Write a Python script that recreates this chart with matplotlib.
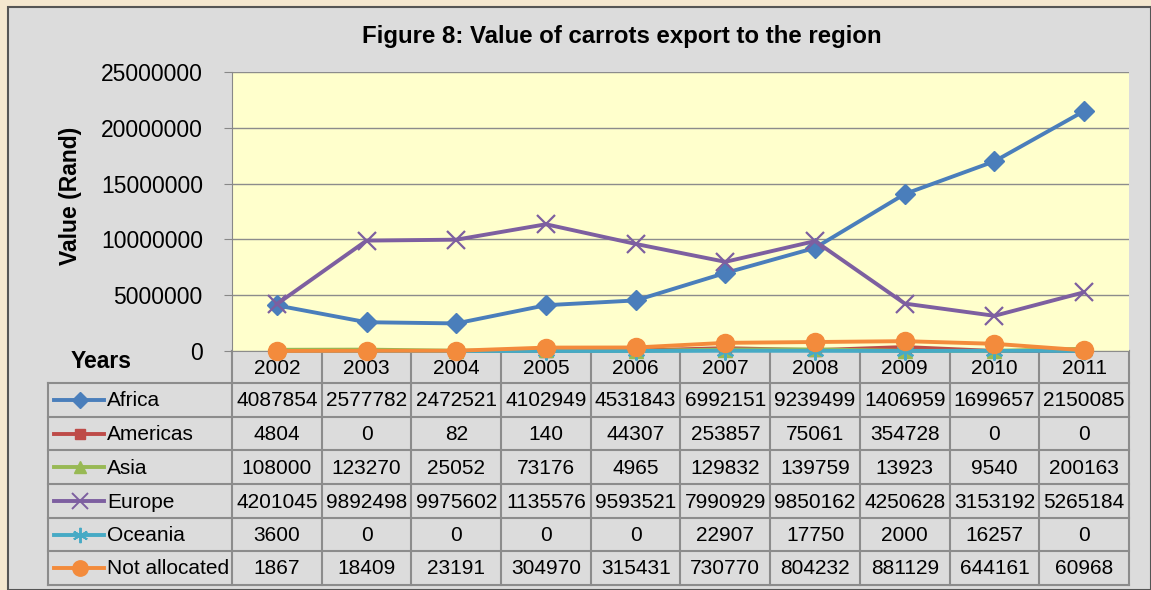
import numpy as np
import matplotlib
matplotlib.use('Agg')
import matplotlib.pyplot as plt
from matplotlib.lines import Line2D
from matplotlib.patches import Rectangle

plt.rcParams['font.family'] = ['Liberation Sans', 'DejaVu Sans']

years = [2002, 2003, 2004, 2005, 2006, 2007, 2008, 2009, 2010, 2011]
africa = [4087854, 2577782, 2472521, 4102949, 4531843, 6992151, 9239499, 14069590, 16996570, 21500850]
americas = [4804, 0, 82, 140, 44307, 253857, 75061, 354728, 0, 0]
asia = [108000, 123270, 25052, 73176, 4965, 129832, 139759, 13923, 9540, 200163]
europe = [4201045, 9892498, 9975602, 11355760, 9593521, 7990929, 9850162, 4250628, 3153192, 5265184]
oceania = [3600, 0, 0, 0, 0, 22907, 17750, 2000, 16257, 0]
not_alloc = [1867, 18409, 23191, 304970, 315431, 730770, 804232, 881129, 644161, 60968]

series = [
    ('Africa', africa, '#4A7EBB', 'D', 10),
    ('Americas', americas, '#BE4B48', 's', 9),
    ('Asia', asia, '#98B954', '^', 10),
    ('Europe', europe, '#7D5FA0', 'x', 13),
    ('Oceania', oceania, '#46AAC5', (6, 2, 0), 13),
    ('Not allocated', not_alloc, '#F38B3C', 'o', 13),
]

W, H = 1151, 590
fig = plt.figure(figsize=(W / 100, H / 100), dpi=100)
fig.patch.set_facecolor('#f4e7cf')

# pixel overlay for background and table
bg = fig.add_axes([0, 0, 1, 1], zorder=0)
bg.set_xlim(0, W)
bg.set_ylim(H, 0)
bg.axis('off')
bg.add_patch(Rectangle((8, 7), W - 8, H - 7, facecolor='#dcdcdc', edgecolor='#555555', lw=1.5))

# plot area
L, R, T, B = 232, 1129, 72, 351
ax = fig.add_axes([L / W, (H - B) / H, (R - L) / W, (B - T) / H], zorder=2)
ax.set_facecolor('#ffffcc')
x = np.arange(len(years))
for name, vals, col, mk, ms in series:
    kw = dict(color=col, lw=2.8, marker=mk, markersize=ms, clip_on=False)
    if mk in ('x', (6, 2, 0)):
        kw['markeredgewidth'] = 1.6
    ax.plot(x, vals, **kw)
ax.set_xlim(-0.5, len(years) - 0.5)
ax.set_ylim(0, 25000000)
ax.set_yticks(np.arange(0, 25000001, 5000000))
ax.set_yticklabels([str(v) for v in range(0, 25000001, 5000000)], fontsize=16.5)
ax.tick_params(axis='y', length=6, color='#888888', pad=15)
ax.set_xticks([])
ax.grid(axis='y', color='#8c8c8c', lw=1)
ax.set_axisbelow(True)
for s in ['top', 'right', 'bottom']:
    ax.spines[s].set_visible(False)
ax.spines['left'].set_color('#888888')

fig.text(622 / W, 1 - 37 / H, 'Figure 8: Value of carrots export to the region',
         ha='center', va='center', fontsize=17.3, fontweight='bold')
fig.text(70 / W, 1 - 196 / H, 'Value (Rand)', rotation=90, ha='center', va='center',
         fontsize=16.5, fontweight='bold')

# data table
gc = '#8c8c8c'
col_w = (R - L) / len(years)
row_y = [B, 383, 417, 450, 484, 518, 551, 585]
tL = 48
for i, yy in enumerate(row_y):
    x0 = L if i == 0 else tL
    bg.plot([x0, R], [yy, yy], color=gc, lw=1.5)
bg.plot([tL, tL], [row_y[1], row_y[-1]], color=gc, lw=1.5)
for j in range(len(years) + 1):
    bg.plot([L + j * col_w, L + j * col_w], [row_y[0], row_y[-1]], color=gc, lw=1.5)

bg.text(71, 362, 'Years', ha='left', va='center', fontsize=16.5, fontweight='bold')
for j, yr in enumerate(years):
    bg.text(L + (j + 0.5) * col_w, (row_y[0] + row_y[1]) / 2 + 1, str(yr),
            ha='center', va='center', fontsize=15)

for i, (name, vals, col, mk, ms) in enumerate(series):
    yc = (row_y[i + 1] + row_y[i + 2]) / 2
    bg.add_line(Line2D([54, 104], [yc, yc], color=col, lw=2.8))
    bg.add_line(Line2D([80], [yc], color=col, marker=mk, markersize=ms * 0.85,
                       markeredgewidth=1.4 if mk in ('x', (6, 2, 0)) else 1))
    bg.text(107, yc + 1, name, ha='left', va='center', fontsize=15)
    for j, v in enumerate(vals):
        bg.text(L + (j + 0.5) * col_w, yc + 1, str(v)[:7], ha='center', va='center', fontsize=15)

fig.savefig('out.png', dpi=100, facecolor=fig.get_facecolor())
